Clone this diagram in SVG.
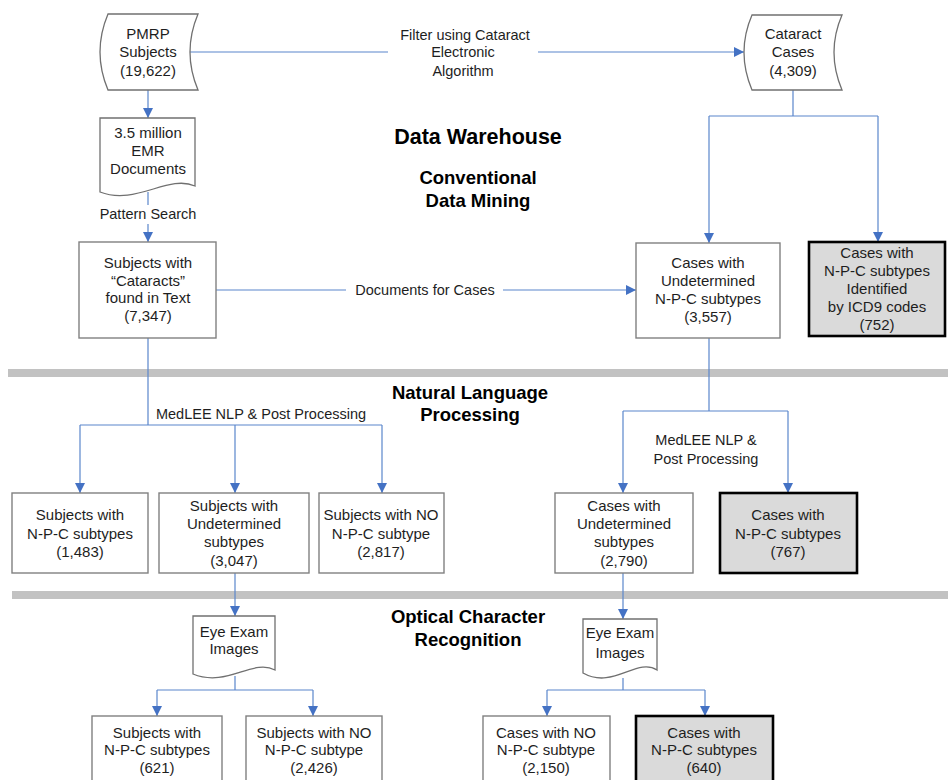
<svg xmlns="http://www.w3.org/2000/svg" width="948" height="780" viewBox="0 0 948 780">
  <style>
    text { font-family: "Liberation Sans", Arial, sans-serif; fill: #1e1e1e; }
    .t { font-size: 15px; text-anchor: middle; }
    .l { font-size: 14.5px; text-anchor: middle; }
    .h1 { font-size: 21.5px; font-weight: bold; text-anchor: middle; fill: #000; }
    .h2 { font-size: 18.5px; font-weight: bold; text-anchor: middle; fill: #000; }
    .box { fill: #ffffff; stroke: #808080; stroke-width: 1.4; }
    .key { fill: #dadada; stroke: #000000; stroke-width: 2.6; }
    .shape { fill: #ffffff; stroke: #707070; stroke-width: 1.3; }
    .bar { fill: #c2c2c2; }
    .c { fill: none; stroke: #5a86cc; stroke-width: 1.2; }
    .a { fill: none; stroke: #5a86cc; stroke-width: 1.2; marker-end: url(#ah); }
  </style>
  <defs>
    <marker id="ah" viewBox="0 0 10 10" refX="10" refY="5" markerWidth="11" markerHeight="10" markerUnits="userSpaceOnUse" orient="auto">
      <path d="M0,0 L10,5 L0,10 Z" fill="#4472c4"/>
    </marker>
  </defs>

  <rect width="948" height="780" fill="#ffffff"/>

  <!-- section separators -->
  <rect class="bar" x="8" y="369" width="940" height="8"/>
  <rect class="bar" x="12" y="591" width="936" height="8"/>

  <!-- section headings -->
  <text class="h1" x="478" y="144">Data Warehouse</text>
  <text class="h2" x="478" y="184">Conventional</text>
  <text class="h2" x="478" y="207">Data Mining</text>
  <text class="h2" x="470" y="399">Natural Language</text>
  <text class="h2" x="470" y="421">Processing</text>
  <text class="h2" x="468" y="623">Optical Character</text>
  <text class="h2" x="468" y="646">Recognition</text>

  <!-- connectors -->
  <g id="connectors">
    <path class="c" d="M190,52 H388"/>
    <path class="a" d="M538,52 H744"/>
    <text class="l" x="465" y="40">Filter using Cataract</text>
    <text class="l" x="463" y="57">Electronic</text>
    <text class="l" x="463" y="76">Algorithm</text>

    <path class="a" d="M148,90 V118"/>
    <path class="c" d="M148,192 V205"/>
    <text class="l" x="148" y="219">Pattern Search</text>
    <path class="a" d="M148,224 V242"/>

    <path class="c" d="M793,90 V116 M709,116 H878"/>
    <path class="a" d="M709,116 V243"/>
    <path class="a" d="M878,116 V242"/>

    <path class="c" d="M216,290 H346"/>
    <text class="l" x="425" y="295">Documents for Cases</text>
    <path class="a" d="M503,290 H636"/>

    <path class="c" d="M148,338 V425 M80,425 H382"/>
    <text class="l" x="261" y="419">MedLEE NLP &amp; Post Processing</text>
    <path class="a" d="M80,425 V493"/>
    <path class="a" d="M235,425 V493"/>
    <path class="a" d="M382,425 V493"/>

    <path class="c" d="M709,338 V411 M623,411 H788"/>
    <text class="l" x="706" y="445">MedLEE NLP &amp;</text>
    <text class="l" x="706" y="464">Post Processing</text>
    <path class="a" d="M623,411 V493"/>
    <path class="a" d="M788,411 V493"/>

    <path class="a" d="M235,573 V616"/>
    <path class="a" d="M623,573 V619"/>

    <path class="c" d="M235,676 V690 M157,690 H313"/>
    <path class="a" d="M157,690 V716"/>
    <path class="a" d="M313,690 V716"/>
    <path class="c" d="M623,678 V690 M547,690 H705"/>
    <path class="a" d="M547,690 V716"/>
    <path class="a" d="M705,690 V716"/>
  </g>

  <!-- stored data: PMRP subjects -->
  <g id="pmrp">
    <path class="shape" d="M108,14 H198 Q182,52 198,90 H108 Q92,52 108,14 Z"/>
    <text class="t" x="148" y="39">PMRP</text>
    <text class="t" x="148" y="57">Subjects</text>
    <text class="t" x="148" y="76">(19,622)</text>
  </g>

  <!-- stored data: cataract cases -->
  <g id="cataract-cases">
    <path class="shape" d="M752,15 H842 Q826,52 842,90 H752 Q736,52 752,15 Z"/>
    <text class="t" x="793" y="39">Cataract</text>
    <text class="t" x="793" y="57">Cases</text>
    <text class="t" x="793" y="76">(4,309)</text>
  </g>

  <!-- document: EMR documents -->
  <g id="emr-docs">
    <path class="shape" d="M100,118 H195 V186 C168,174 136,206 100,192 Z"/>
    <text class="t" x="148" y="138">3.5 million</text>
    <text class="t" x="148" y="156">EMR</text>
    <text class="t" x="148" y="174">Documents</text>
  </g>

  <g id="subjects-text">
    <rect class="box" x="79" y="242" width="137" height="96"/>
    <text class="t" x="148" y="268">Subjects with</text>
    <text class="t" x="148" y="286">“Cataracts”</text>
    <text class="t" x="148" y="303">found in Text</text>
    <text class="t" x="148" y="321">(7,347)</text>
  </g>

  <g id="cases-undetermined">
    <rect class="box" x="636" y="243" width="144" height="95"/>
    <text class="t" x="708" y="268">Cases with</text>
    <text class="t" x="708" y="286">Undetermined</text>
    <text class="t" x="708" y="304">N-P-C subtypes</text>
    <text class="t" x="708" y="322">(3,557)</text>
  </g>

  <g id="cases-icd9">
    <rect class="key" x="809" y="242" width="136" height="94"/>
    <text class="t" x="877" y="258">Cases with</text>
    <text class="t" x="877" y="276">N-P-C subtypes</text>
    <text class="t" x="877" y="294">Identified</text>
    <text class="t" x="877" y="312">by ICD9 codes</text>
    <text class="t" x="877" y="330">(752)</text>
  </g>

  <g id="subjects-npc">
    <rect class="box" x="12" y="493" width="136" height="80"/>
    <text class="t" x="80" y="520">Subjects with</text>
    <text class="t" x="80" y="539">N-P-C subtypes</text>
    <text class="t" x="80" y="557">(1,483)</text>
  </g>

  <g id="subjects-undetermined">
    <rect class="box" x="159" y="493" width="150" height="80"/>
    <text class="t" x="234" y="511">Subjects with</text>
    <text class="t" x="234" y="529">Undetermined</text>
    <text class="t" x="234" y="547">subtypes</text>
    <text class="t" x="234" y="566">(3,047)</text>
  </g>

  <g id="subjects-no-npc">
    <rect class="box" x="319" y="493" width="125" height="80"/>
    <text class="t" x="381" y="520">Subjects with NO</text>
    <text class="t" x="381" y="539">N-P-C subtype</text>
    <text class="t" x="381" y="557">(2,817)</text>
  </g>

  <g id="cases-undetermined-2">
    <rect class="box" x="555" y="493" width="138" height="80"/>
    <text class="t" x="624" y="511">Cases with</text>
    <text class="t" x="624" y="529">Undetermined</text>
    <text class="t" x="624" y="547">subtypes</text>
    <text class="t" x="624" y="566">(2,790)</text>
  </g>

  <g id="cases-nlp">
    <rect class="key" x="720" y="493" width="137" height="80"/>
    <text class="t" x="788" y="520">Cases with</text>
    <text class="t" x="788" y="539">N-P-C subtypes</text>
    <text class="t" x="788" y="557">(767)</text>
  </g>

  <g id="eye-exam-subjects">
    <path class="shape" d="M193,616 H275 V670 C253,658 227,688 193,674 Z"/>
    <text class="t" x="234" y="637">Eye Exam</text>
    <text class="t" x="234" y="654">Images</text>
  </g>

  <g id="eye-exam-cases">
    <path class="shape" d="M583,619 H657 V670 C637,657 613,690 583,673 Z"/>
    <text class="t" x="620" y="638">Eye Exam</text>
    <text class="t" x="620" y="658">Images</text>
  </g>

  <g id="subjects-ocr-npc">
    <rect class="box" x="92" y="716" width="130" height="80"/>
    <text class="t" x="157" y="738">Subjects with</text>
    <text class="t" x="157" y="755">N-P-C subtypes</text>
    <text class="t" x="157" y="773">(621)</text>
  </g>

  <g id="subjects-ocr-no">
    <rect class="box" x="246" y="716" width="136" height="80"/>
    <text class="t" x="314" y="738">Subjects with NO</text>
    <text class="t" x="314" y="755">N-P-C subtype</text>
    <text class="t" x="314" y="773">(2,426)</text>
  </g>

  <g id="cases-ocr-no">
    <rect class="box" x="483" y="716" width="127" height="80"/>
    <text class="t" x="546" y="738">Cases with NO</text>
    <text class="t" x="546" y="755">N-P-C subtype</text>
    <text class="t" x="546" y="773">(2,150)</text>
  </g>

  <g id="cases-ocr-npc">
    <rect class="key" x="636" y="716" width="137" height="80"/>
    <text class="t" x="704" y="738">Cases with</text>
    <text class="t" x="704" y="755">N-P-C subtypes</text>
    <text class="t" x="704" y="773">(640)</text>
  </g>
</svg>
